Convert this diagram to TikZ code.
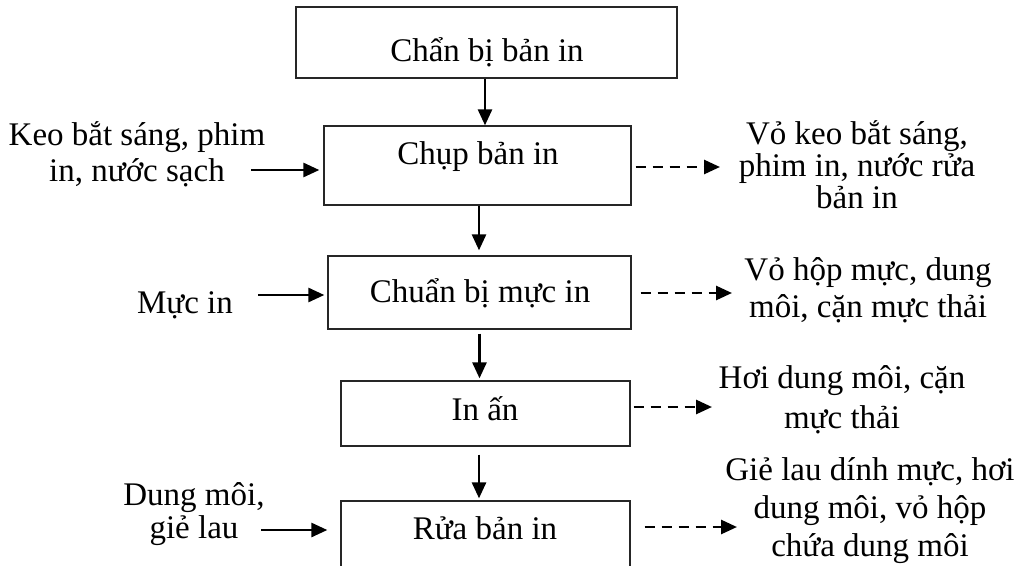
\documentclass[tikz,border=0pt]{standalone}
\usepackage{fontspec}
\setmainfont{Liberation Serif}
\usetikzlibrary{arrows.meta}
\begin{document}
\begin{tikzpicture}[x=1pt,y=-1pt,
  stagebox/.style={draw=black!85,line width=1.3pt,inner sep=0pt},
  lab/.style={font=\fontsize{33}{#1}\selectfont,align=center,inner sep=0pt,anchor=base},
  lab/.default=36,
  flow/.style={line width=2.7pt,-{Triangle[length=16pt,width=14pt]}},
  waste/.style={flow,dash pattern=on 10pt off 7pt}]
\useasboundingbox (0,0) rectangle (1024,565);
\clip (0,0) rectangle (1024,565);

% process stages (boxes)
\node[stagebox,minimum width=381pt,minimum height=71pt] (b1) at (486.5,42.5) {};
\node[stagebox,minimum width=307pt,minimum height=79pt] (b2) at (477.5,165.5) {};
\node[stagebox,minimum width=303pt,minimum height=73pt] (b3) at (479.5,292.5) {};
\node[stagebox,minimum width=289pt,minimum height=65pt] (b4) at (485.5,413.5) {};
\node[stagebox,minimum width=289pt,minimum height=100pt] (b5) at (485.5,551) {};

% stage names (anchored on the baseline)
\node[lab] (t1) at (487,61) {Chẩn bị bản in};
\node[lab] (t2) at (478,164) {Chụp bản in};
\node[lab] (t3) at (480,302) {Chuẩn bị mực in};
\node[lab] (t4) at (485,420) {In ấn};
\node[lab] (t5) at (485,539) {Rửa bản in};

% inputs (anchored on the last baseline)
\node[lab=36] (i2) at (137,181) {Keo bắt sáng, phim\\in, nước sạch};
\node[lab] (i3) at (185,313) {Mực in};
\node[lab=33] (i5) at (194,538) {Dung môi,\\giẻ lau};

% outputs (anchored on the last baseline)
\node[lab=32] (o2) at (857,208) {Vỏ keo bắt sáng,\\phim in, nước rửa\\bản in};
\node[lab=37] (o3) at (868,317) {Vỏ hộp mực, dung\\môi, cặn mực thải};
\node[lab=40] (o4) at (842,428) {Hơi dung môi, cặn\\mực thải};
\node[lab=38] (o5) at (870,556) {Giẻ lau dính mực, hơi\\dung môi, vỏ hộp\\chứa dung môi};

% main flow
\draw[flow] ([xshift=-1.5pt]b1.south) -- ([xshift=-1.5pt]b1.south |- b2.north);
\draw[flow,shorten >=5pt] ([xshift=1.5pt]b2.south) -- ([xshift=1.5pt]b2.south |- b3.north);
\draw[flow,shorten <=4pt,shorten >=2pt] (b3.south) -- (b3.south |- b4.north);
\draw[flow,shorten <=8pt,shorten >=2pt] ([xshift=-6.5pt]b4.south) -- ([xshift=-6.5pt]b4.south |- b5.north);

% input arrows
\coordinate (k2) at (251,170);
\coordinate (k3) at (258,295);
\coordinate (k5) at (261,530);
\draw[flow,shorten >=4pt] (k2) -- (k2 -| b2.west);
\draw[flow,shorten >=3pt] (k3) -- (k3 -| b3.west);
\draw[flow,shorten >=13pt] (k5) -- (k5 -| b5.west);

% waste arrows
\coordinate (w2) at (720,167);
\coordinate (w3) at (732,293);
\coordinate (w4) at (712,407);
\coordinate (w5) at (737,527);
\draw[waste,shorten <=4pt] (w2 -| b2.east) -- (w2);
\draw[waste,shorten <=9pt] (w3 -| b3.east) -- (w3);
\draw[waste,shorten <=3pt] (w4 -| b4.east) -- (w4);
\draw[waste,shorten <=14pt] (w5 -| b5.east) -- (w5);
\end{tikzpicture}
\end{document}
